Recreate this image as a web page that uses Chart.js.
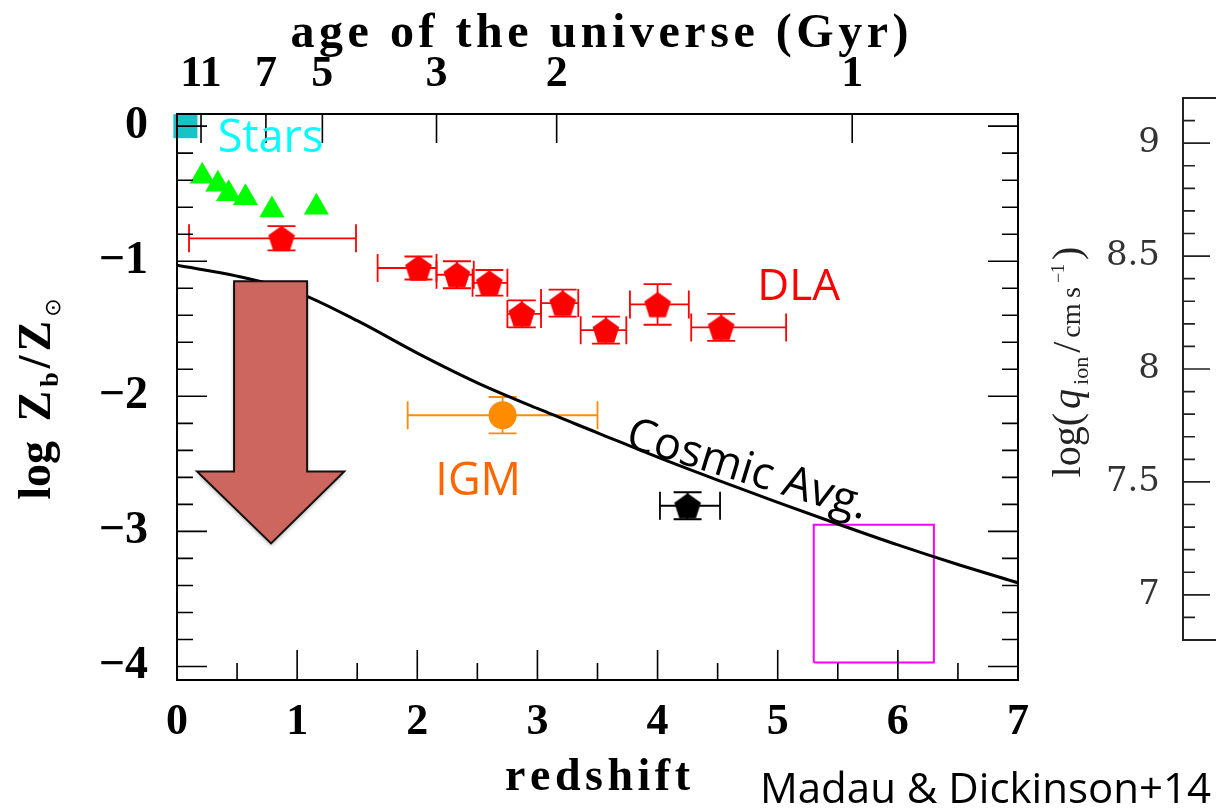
<!DOCTYPE html>
<html>
<head>
<meta charset="utf-8">
<script src="https://cdn.jsdelivr.net/npm/chart.js"></script>
<style>
  html, body { margin: 0; padding: 0; background: #fff; overflow: hidden; }
  body { width: 1216px; height: 809px; position: relative; }
  #main-wrap { position: absolute; left: 0; top: 0; width: 1045px; height: 809px; }
  #side-wrap { position: absolute; left: 1020px; top: 0; width: 420px; height: 809px; }
  #credit { position: absolute; left: 760px; top: 766px; font-family: 'Open Sans', sans-serif;
            font-size: 42px; line-height: 42px; color: #000; white-space: nowrap; }
</style>
</head>
<body>
<div id="main-wrap"><canvas id="metalChart"></canvas></div>
<div id="side-wrap"><canvas id="qionChart"></canvas></div>
<div id="credit">Madau &amp; Dickinson+14</div>
<script>
// values
const xTicks = [0, 1, 2, 3, 4, 5, 6, 7];
const yTicks = [0, -1, -2, -3, -4];
const ageLabels = ['11', '7', '5', '3', '2', '1'];
const ageRedshift = [0.20, 0.74, 1.21, 2.16, 3.16, 5.62];

const solarZ = [0.07];
const solarLogZ = [0.0];

const starZ = [0.21, 0.34, 0.43, 0.57, 0.79, 1.16];
const starLogZ = [-0.37, -0.43, -0.50, -0.53, -0.62, -0.60];

const dlaZ    = [0.87, 2.01, 2.33, 2.60, 2.87, 3.21, 3.57, 4.00, 4.53];
const dlaLogZ = [-0.83, -1.05, -1.10, -1.16, -1.39, -1.31, -1.51, -1.32, -1.49];
const dlaZLo  = [0.10, 1.67, 2.16, 2.46, 2.75, 3.03, 3.36, 3.77, 4.28];
const dlaZHi  = [1.49, 2.16, 2.47, 2.75, 3.03, 3.34, 3.74, 4.26, 5.07];
const dlaErr  = [0.09, 0.085, 0.10, 0.095, 0.10, 0.10, 0.10, 0.15, 0.10];

const igmZ = [2.71];
const igmLogZ = [-2.14];
const igmZLo = [1.92];
const igmZHi = [3.50];
const igmErr = [0.135];

const hiZ = [4.25];
const hiLogZ = [-2.81];
const hiZLo = [4.02];
const hiZHi = [4.52];
const hiErr = [0.10];

const cosmicZ = [0, 0.5, 1, 1.5, 2, 2.5, 3, 3.5, 4, 4.5, 5, 5.5, 6, 6.5, 7];
const cosmicLogZ = [-1.03, -1.11, -1.23, -1.44, -1.68, -1.90, -2.09, -2.27, -2.45, -2.62, -2.785, -2.945, -3.10, -3.245, -3.38];

const boxZ = [5.3, 6.3];
const boxLogZ = [-3.97, -2.95];

const qionTicks = [7, 7.5, 8, 8.5, 9];

// annotation placement (data coordinates)
const notes = [
    { text: 'Stars', z: 0.34, y: -0.19, color: '#00ffff', size: 45, angle: 0 },
    { text: 'DLA', z: 4.83, y: -1.29, color: '#ff0000', size: 44, angle: 0 },
    { text: 'IGM', z: 2.15, y: -2.73, color: '#ff6600', size: 45, angle: 0 },
    { text: 'Cosmic Avg.', z: 3.72, y: -2.37, color: '#000', size: 45, angle: 17 }
];
const arrow = { shaftL: 0.475, shaftR: 1.083, top: -1.148, headY: -2.556, headL: 0.167, headR: 1.392, tipZ: 0.783, tipY: -3.089 };

const serif = "'Liberation Serif', 'Times New Roman', serif";
const sans = "'Open Sans', 'Noto Sans', sans-serif";

const pts = (xs, ys) => xs.map((v, i) => ({ x: v, y: ys[i] }));

function makePentagon(color, r) {
    const c = document.createElement('canvas');
    const s = Math.ceil(2 * r + 2);
    c.width = s; c.height = s;
    const g = c.getContext('2d');
    g.fillStyle = color;
    g.beginPath();
    for (let i = 0; i < 5; i++) {
        const a = -Math.PI / 2 + i * 2 * Math.PI / 5;
        const px = s / 2 + r * Math.cos(a);
        const py = s / 2 + r * Math.sin(a) + r * 0.1;
        if (i) g.lineTo(px, py); else g.moveTo(px, py);
    }
    g.closePath();
    g.fill();
    return c;
}

function spacedText(ctx, text, cx, y, width) {
    const chars = [...text];
    const w = chars.map(c => ctx.measureText(c).width);
    const total = w.reduce((a, b) => a + b, 0);
    const gap = (width - total) / (chars.length - 1);
    let x = cx - width / 2;
    chars.forEach((c, i) => { ctx.fillText(c, x, y); x += w[i] + gap; });
}

function richText(ctx, parts, gap) {
    // draws along +x centred on 0, baseline at y = 0
    const widths = parts.map(p => { ctx.font = p.font; return ctx.measureText(p.t).width; });
    const total = widths.reduce((a, b) => a + b, 0) + gap * (parts.length - 1);
    let x = -total / 2;
    parts.forEach((p, i) => {
        ctx.font = p.font;
        ctx.fillText(p.t, x, p.dy || 0);
        x += widths[i] + gap;
    });
}

const errorSets = [
    { z: dlaZ, logZ: dlaLogZ, lo: dlaZLo, hi: dlaZHi, err: dlaErr, color: '#ff0000' },
    { z: igmZ, logZ: igmLogZ, lo: igmZLo, hi: igmZHi, err: igmErr, color: '#ff8c00' },
    { z: hiZ, logZ: hiLogZ, lo: hiZLo, hi: hiZHi, err: hiErr, color: '#000000' }
];

const errorBars = {
    id: 'errorBars',
    beforeDatasetsDraw(chart) {
        const { ctx, scales: { x, y } } = chart;
        const cap = 14;
        ctx.save();
        ctx.lineWidth = 1.8;
        errorSets.forEach(set => {
            ctx.strokeStyle = set.color;
            set.z.forEach((z, i) => {
                const px = x.getPixelForValue(z), py = y.getPixelForValue(set.logZ[i]);
                const x0 = x.getPixelForValue(set.lo[i]), x1 = x.getPixelForValue(set.hi[i]);
                const y0 = y.getPixelForValue(set.logZ[i] - set.err[i]);
                const y1 = y.getPixelForValue(set.logZ[i] + set.err[i]);
                ctx.beginPath();
                ctx.moveTo(x0, py); ctx.lineTo(x1, py);
                ctx.moveTo(x0, py - cap); ctx.lineTo(x0, py + cap);
                ctx.moveTo(x1, py - cap); ctx.lineTo(x1, py + cap);
                ctx.moveTo(px, y0); ctx.lineTo(px, y1);
                ctx.moveTo(px - cap, y0); ctx.lineTo(px + cap, y0);
                ctx.moveTo(px - cap, y1); ctx.lineTo(px + cap, y1);
                ctx.stroke();
            });
        });
        ctx.restore();
    }
};

const decorations = {
    id: 'decorations',
    afterDatasetsDraw(chart) {
        const { ctx, chartArea: a, scales: { x, y } } = chart;
        ctx.save();

        // big arrow
        const X = v => x.getPixelForValue(v), Y = v => y.getPixelForValue(v);
        ctx.beginPath();
        ctx.moveTo(X(arrow.shaftL), Y(arrow.top));
        ctx.lineTo(X(arrow.shaftR), Y(arrow.top));
        ctx.lineTo(X(arrow.shaftR), Y(arrow.headY));
        ctx.lineTo(X(arrow.headR), Y(arrow.headY));
        ctx.lineTo(X(arrow.tipZ), Y(arrow.tipY));
        ctx.lineTo(X(arrow.headL), Y(arrow.headY));
        ctx.lineTo(X(arrow.shaftL), Y(arrow.headY));
        ctx.closePath();
        ctx.shadowColor = 'rgba(0,0,0,0.35)';
        ctx.shadowBlur = 4;
        ctx.shadowOffsetY = 2;
        ctx.fillStyle = '#cc665e';
        ctx.fill();
        ctx.shadowColor = 'transparent';
        ctx.lineWidth = 2;
        ctx.strokeStyle = '#111';
        ctx.stroke();

        // frame and inward ticks
        ctx.strokeStyle = '#000';
        ctx.lineWidth = 2;
        ctx.strokeRect(a.left, a.top, a.right - a.left, a.bottom - a.top);
        ctx.lineWidth = 1.6;
        ctx.beginPath();
        for (let k = -20; k <= 0; k++) {
            const len = k % 5 === 0 ? 30 : 16;
            const py = Y(k / 5);
            ctx.moveTo(a.left, py); ctx.lineTo(a.left + len, py);
            ctx.moveTo(a.right, py); ctx.lineTo(a.right - len, py);
        }
        for (let k = 1; k < 14; k++) {
            const px = X(k / 2);
            ctx.moveTo(px, a.bottom); ctx.lineTo(px, a.bottom - (k % 2 === 0 ? 30 : 17));
        }
        ageRedshift.forEach(z => {
            ctx.moveTo(X(z), a.top); ctx.lineTo(X(z), a.top + 29);
        });
        ctx.stroke();

        // text labels
        notes.forEach(n => {
            ctx.save();
            ctx.translate(X(n.z), Y(n.y));
            ctx.rotate(n.angle * Math.PI / 180);
            ctx.font = n.size + 'px ' + sans;
            ctx.fillStyle = n.color;
            ctx.textAlign = 'left';
            ctx.textBaseline = 'alphabetic';
            ctx.fillText(n.text, 0, 0);
            ctx.restore();
        });
        ctx.restore();
    },
    afterDraw(chart) {
        const { ctx, chartArea: a } = chart;
        const mid = (a.left + a.right) / 2;
        ctx.save();
        ctx.fillStyle = '#000';
        ctx.textBaseline = 'alphabetic';
        ctx.textAlign = 'left';
        ctx.font = 'bold 48px ' + serif;
        spacedText(ctx, 'age of the universe (Gyr)', mid + 2, a.top - 67, 618);
        ctx.font = 'bold 46px ' + serif;
        spacedText(ctx, 'redshift', mid, a.bottom + 110, 185);

        ctx.translate(a.left - 127, (a.top + a.bottom) / 2 + 2);
        ctx.rotate(-Math.PI / 2);
        const big = 'bold 46px ' + serif, small = 'bold 26px ' + serif;
        richText(ctx, [
            { t: 'log', font: big },
            { t: ' ', font: big },
            { t: 'Z', font: big },
            { t: 'b', font: small, dy: 8 },
            { t: '/', font: big },
            { t: 'Z', font: big },
            { t: '\u2299', font: "22px 'DejaVu Sans'", dy: 10 }
        ], 4);
        ctx.restore();
    }
};

new Chart(document.getElementById('metalChart'), {
    type: 'scatter',
    data: {
        datasets: [
            {
                label: 'Cosmic Avg.', type: 'line', showLine: true,
                data: pts(cosmicZ, cosmicLogZ),
                borderColor: '#000', borderWidth: 3, pointRadius: 0,
                cubicInterpolationMode: 'monotone', fill: false
            },
            {
                label: 'z > 5', type: 'line', showLine: true,
                data: pts([boxZ[0], boxZ[1], boxZ[1], boxZ[0], boxZ[0]],
                          [boxLogZ[0], boxLogZ[0], boxLogZ[1], boxLogZ[1], boxLogZ[0]]),
                borderColor: '#ff00ff', borderWidth: 2, pointRadius: 0, tension: 0, fill: false
            },
            {
                label: 'Sun', data: pts(solarZ, solarLogZ), clip: false,
                pointStyle: 'rect', pointRadius: 17, pointBackgroundColor: '#17c3c6', pointBorderWidth: 0
            },
            {
                label: 'Stars', data: pts(starZ, starLogZ),
                pointStyle: 'triangle', pointRadius: 14.5, pointBackgroundColor: '#00ff00', pointBorderWidth: 0
            },
            {
                label: 'DLA', data: pts(dlaZ, dlaLogZ),
                pointStyle: makePentagon('#ff0000', 14), pointRadius: 14
            },
            {
                label: 'IGM', data: pts(igmZ, igmLogZ),
                pointStyle: 'circle', pointRadius: 14, pointBackgroundColor: '#ff8c00', pointBorderWidth: 0
            },
            {
                label: 'high z', data: pts(hiZ, hiLogZ),
                pointStyle: makePentagon('#000000', 14), pointRadius: 14
            }
        ]
    },
    options: {
        responsive: true,
        maintainAspectRatio: false,
        animation: false,
        events: [],
        layout: { padding: { left: 0, right: 24, top: 0, bottom: 0 } },
        plugins: { legend: { display: false }, tooltip: { enabled: false } },
        scales: {
            x: {
                type: 'linear', position: 'bottom', min: 0, max: 7,
                afterBuildTicks: s => { s.ticks = xTicks.map(v => ({ value: v })); },
                afterFit: s => { s.height = 129; },
                grid: { display: false, drawTicks: false },
                border: { display: false },
                ticks: { font: { family: serif, size: 44, weight: 'bold' }, color: '#000', padding: 16,
                         maxRotation: 0, autoSkip: false, callback: v => String(v) }
            },
            x2: {
                type: 'linear', position: 'top', min: 0, max: 7,
                afterBuildTicks: s => { s.ticks = ageRedshift.map(v => ({ value: v })); },
                afterFit: s => { s.height = 114; },
                grid: { display: false, drawTicks: false },
                border: { display: false },
                ticks: { font: { family: serif, size: 44, weight: 'bold' }, color: '#000', padding: 13,
                         maxRotation: 0, autoSkip: false, callback: (v, i) => ageLabels[i] }
            },
            y: {
                type: 'linear', min: -4.1, max: 0.09,
                afterBuildTicks: s => { s.ticks = yTicks.map(v => ({ value: v })); },
                afterFit: s => { s.width = 177; },
                grid: { display: false, drawTicks: false },
                border: { display: false },
                ticks: { font: { family: serif, size: 46, weight: 'bold' }, color: '#000', padding: 29,
                         callback: v => (v === 0 ? '0' : '\u2212' + Math.abs(v)) }
            }
        }
    },
    plugins: [errorBars, decorations]
});

const qionFrame = {
    id: 'qionFrame',
    afterDraw(chart) {
        const { ctx, chartArea: a, scales: { y } } = chart;
        ctx.save();
        ctx.strokeStyle = '#222';
        ctx.lineWidth = 2;
        ctx.strokeRect(a.left, a.top, a.right - a.left, a.bottom - a.top);
        ctx.lineWidth = 1.6;
        ctx.beginPath();
        for (let k = 69; k <= 91; k++) {
            const len = k % 5 === 0 ? 27 : 12;
            const py = y.getPixelForValue(k / 10);
            ctx.moveTo(a.left, py); ctx.lineTo(a.left + len, py);
        }
        ctx.stroke();

        ctx.fillStyle = '#222';
        ctx.textBaseline = 'alphabetic';
        ctx.translate(a.left - 103, (a.top + a.bottom) / 2 - 7);
        ctx.rotate(-Math.PI / 2);
        richText(ctx, [
            { t: 'log(', font: '40px ' + serif },
            { t: 'q', font: 'italic 40px ' + serif },
            { t: 'ion', font: '22px ' + serif, dy: 8 },
            { t: '/', font: '40px ' + serif },
            { t: 'cm\u2009s', font: '28px ' + serif },
            { t: '\u22121', font: '18px ' + serif, dy: -16 },
            { t: ')', font: '40px ' + serif }
        ], 4);
        ctx.restore();
    }
};

new Chart(document.getElementById('qionChart'), {
    type: 'scatter',
    data: { datasets: [] },
    options: {
        responsive: true,
        maintainAspectRatio: false,
        animation: false,
        events: [],
        layout: { padding: { left: 0, right: 10, top: 98, bottom: 169 } },
        plugins: { legend: { display: false }, tooltip: { enabled: false } },
        scales: {
            x: { type: 'linear', display: false, min: 0, max: 1 },
            y: {
                type: 'linear', min: 6.8, max: 9.2,
                afterBuildTicks: s => { s.ticks = qionTicks.map(v => ({ value: v })); },
                afterFit: s => { s.width = 163; },
                grid: { display: false, drawTicks: false },
                border: { display: false },
                ticks: { font: { family: "'DejaVu Serif', serif", size: 34 }, color: '#333', padding: 23,
                         callback: v => String(v) }
            }
        }
    },
    plugins: [qionFrame]
});
</script>
</body>
</html>
